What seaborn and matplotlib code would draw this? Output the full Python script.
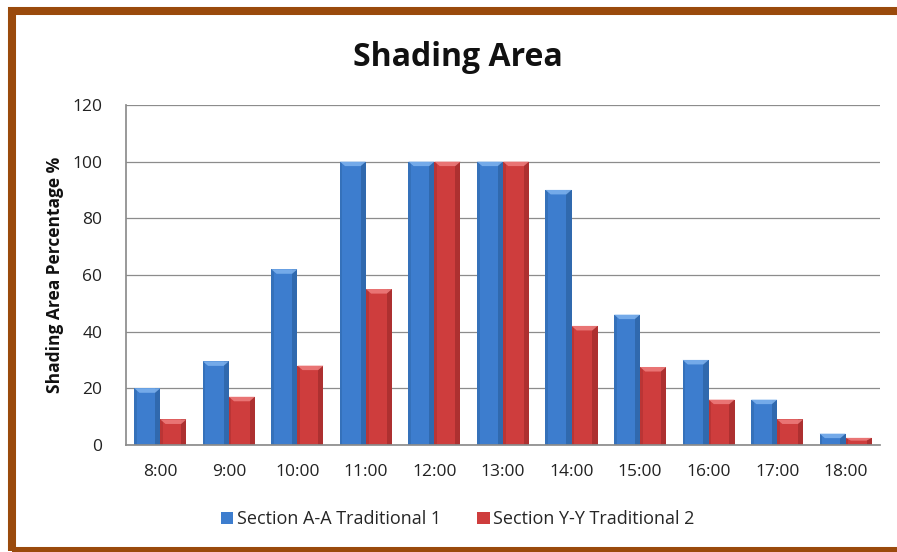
import matplotlib
matplotlib.use("Agg")
import matplotlib.pyplot as plt
import seaborn as sns
import pandas as pd
from matplotlib.patches import Rectangle, Polygon

hours = ["8:00", "9:00", "10:00", "11:00", "12:00", "13:00",
         "14:00", "15:00", "16:00", "17:00", "18:00"]
section_aa = [20, 29.5, 62, 100, 100, 100, 90, 46, 30, 16, 4]
section_yy = [9, 17, 28, 55, 100, 100, 42, 27.5, 16, 9, 2.5]
series_names = ["Section A-A Traditional 1", "Section Y-Y Traditional 2"]
y_ticks = [0, 20, 40, 60, 80, 100, 120]

df = pd.DataFrame({
    "hour": hours * 2,
    "value": section_aa + section_yy,
    "series": [series_names[0]] * len(hours) + [series_names[1]] * len(hours),
})

sns.set_theme(style="white")
plt.rcParams["font.family"] = ["Open Sans", "DejaVu Sans"]

fig = plt.figure(figsize=(8.97, 5.52), dpi=100)
ax = fig.add_axes([0.1405, 0.194, 0.8405, 0.616])

palette = {series_names[0]: "#3D7DCE", series_names[1]: "#CE3D3D"}
sns.barplot(data=df, x="hour", y="value", hue="series", order=hours,
            hue_order=series_names, palette=palette, width=0.76, gap=0,
            saturation=1, edgecolor="none", ax=ax, legend=True)

# bevel shading: darker sides and a lighter cap on each bar
for container, dark, light in zip(ax.containers,
                                  ["#24568F", "#8E2424"],
                                  ["#7FB3EE", "#EE7F7F"]):
    for bar in container:
        x, w, h = bar.get_x(), bar.get_width(), bar.get_height()
        z = bar.get_zorder() + 0.1
        ax.add_patch(Rectangle((x + w * 0.80, 0), w * 0.20, h,
                               facecolor=dark, edgecolor="none", alpha=0.5, zorder=z))
        ax.add_patch(Rectangle((x, 0), w * 0.10, h,
                               facecolor=dark, edgecolor="none", alpha=0.3, zorder=z))
        cap = min(1.6, h * 0.4)
        ax.add_patch(Polygon([(x, h), (x + w, h), (x + w * 0.8, h - cap), (x + w * 0.2, h - cap)],
                             closed=True, facecolor=light, edgecolor="none", alpha=0.85, zorder=z + 0.1))

ax.set_ylim(0, 120)
ax.set_yticks(y_ticks)
ax.set_xlim(-0.5, len(hours) - 0.5)
ax.yaxis.grid(True, color="#8C8C8C", linewidth=0.9)
ax.set_axisbelow(True)
for side in ["top", "right"]:
    ax.spines[side].set_visible(False)
ax.spines["left"].set_color("#8C8C8C")
ax.spines["bottom"].set_color("#8C8C8C")
ax.tick_params(axis="both", labelsize=12.5, colors="#222222", length=0)
ax.tick_params(axis="x", pad=14)
ax.tick_params(axis="y", pad=17)
ax.set_xlabel("")
ax.set_ylabel("Shading Area Percentage %", fontsize=12.5, fontweight="bold",
              color="#111111", labelpad=6)

ax.legend(loc="upper center", bbox_to_anchor=(0.44, -0.145), ncol=2, frameon=False,
          fontsize=13, handlelength=0.7, handleheight=0.7, handletextpad=0.2,
          columnspacing=2.0)

fig.text(0.51, 0.895, "Shading Area", ha="center", va="center",
         fontsize=23, fontweight="bold", color="#111111")

# brown frame around the chart
fig.patches.append(Rectangle((12 / 897, 1 - 551 / 552), 1.2, 540 / 552, transform=fig.transFigure,
                             fill=False, edgecolor="#9A4A0C", linewidth=5.8, zorder=10))

fig.savefig("out.png", dpi=100)
